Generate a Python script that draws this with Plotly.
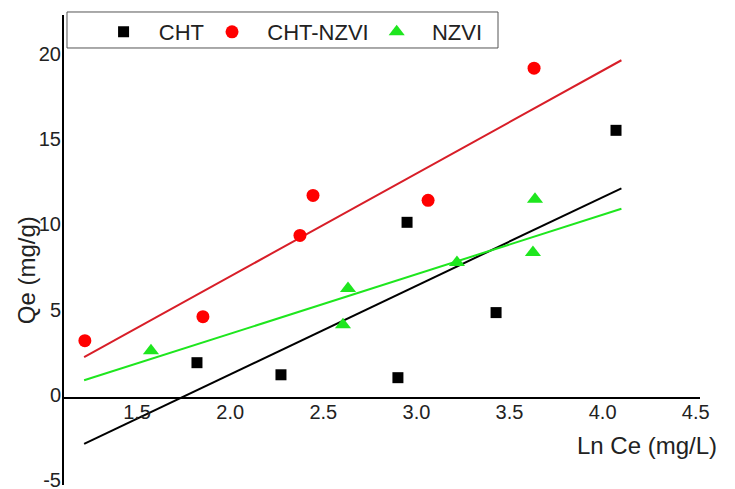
import numpy as np
import plotly.graph_objects as go

# Adsorption data: Qe (mg/g) against Ln Ce (mg/L)
cht_x = [1.811, 2.262, 2.890, 2.939, 3.417, 4.061]
cht_y = [2.06, 1.35, 1.18, 10.3, 5.0, 15.7]

cht_nzvi_x = [1.209, 1.843, 2.364, 2.434, 3.052, 3.621]
cht_nzvi_y = [3.35, 4.76, 9.53, 11.88, 11.59, 19.35]

nzvi_x = [1.564, 2.595, 2.622, 3.207, 3.615, 3.626]
nzvi_y = [2.76, 4.29, 6.41, 7.94, 8.53, 11.65]

# Linear fit parameters (slope, intercept) and the span the fits are drawn over
cht_fit = [5.20, -8.97]
cht_nzvi_fit = [6.04, -4.89]
nzvi_fit = [3.49, -3.18]
fit_x_span = [1.205, 4.09]

x_ticks = [1.5, 2.0, 2.5, 3.0, 3.5, 4.0, 4.5]
y_ticks = [-5, 0, 5, 10, 15, 20]

FONT = "Liberation Sans, Arial, sans-serif"
BLACK = "#000000"
TEXT = "#222222"
RED = "#FF0000"
RED_LINE = "#D81E28"
GREEN = "#1EE61E"

x_range = [1.097, 4.512]
y_range = [-5.12, 22.47]

fig = go.Figure()

series = [
    ("CHT", cht_x, cht_y, cht_fit, BLACK, BLACK, "square", 11),
    ("CHT-NZVI", cht_nzvi_x, cht_nzvi_y, cht_nzvi_fit, RED, RED_LINE, "circle", 13),
    ("NZVI", nzvi_x, nzvi_y, nzvi_fit, GREEN, GREEN, "triangle-up", 14),
]

# fitted lines first so the markers sit on top
for name, xs, ys, (m, b), mcol, lcol, sym, size in series:
    fx = np.array(fit_x_span)
    fig.add_trace(go.Scatter(
        x=fx, y=m * fx + b, mode="lines",
        line=dict(color=lcol, width=2), showlegend=False, hoverinfo="skip",
    ))

PAD = "\u00a0\u00a0"  # small gap between legend symbol and its label
for name, xs, ys, (m, b), mcol, lcol, sym, size in series:
    fig.add_trace(go.Scatter(
        x=xs, y=ys, mode="markers", name=PAD + name,
        marker=dict(symbol=sym, size=size, color=mcol, line=dict(width=0)),
    ))

# y position of the x axis line (at Qe = 0) in paper coordinates
x_axis_pos = (0 - y_range[0]) / (y_range[1] - y_range[0])

fig.update_layout(
    width=735, height=489,
    margin=dict(l=64, r=35, t=15, b=4),
    paper_bgcolor="white", plot_bgcolor="white",
    font=dict(family=FONT, color=BLACK),
    xaxis=dict(
        range=x_range, tickvals=x_ticks, ticktext=[f"{v:.1f}" for v in x_ticks],
        anchor="free", position=x_axis_pos, automargin=False,
        showline=True, linecolor=BLACK, linewidth=1.5,
        ticks="", showgrid=False, zeroline=False,
        ticklabelstandoff=-4, ticklabelshift=-2,
        tickfont=dict(family=FONT, size=20, color=TEXT),
    ),
    yaxis=dict(
        range=y_range, tickvals=y_ticks, ticktext=[str(v) for v in y_ticks],
        automargin=False,
        showline=True, linecolor=BLACK, linewidth=2,
        ticks="", showgrid=False, zeroline=False,
        ticklabeloverflow="allow", ticklabelstandoff=-3, ticklabelshift=-3,
        tickfont=dict(family=FONT, size=20, color=TEXT),
    ),
    legend=dict(
        orientation="h", x=0.0575, y=1.0085, xanchor="left", yanchor="top",
        borderwidth=0, bgcolor="rgba(0,0,0,0)",
        font=dict(family=FONT, size=22, color=TEXT),
        itemwidth=36,
    ),
    shapes=[
        # legend frame
        dict(type="rect", xref="paper", yref="paper",
             x0=0.0047, x1=0.6824, y0=0.9298, y1=1.0064,
             line=dict(color="#555555", width=1), fillcolor="rgba(0,0,0,0)",
             layer="below"),
    ],
    annotations=[
        dict(text="Ln Ce (mg/L)", xref="paper", yref="paper", x=0.9167, y=0.0851,
             xanchor="center", yanchor="middle", showarrow=False,
             font=dict(family=FONT, size=24, color=TEXT)),
        dict(text="Qe (mg/g)", xref="paper", yref="paper", x=-0.0597, y=0.457,
             xanchor="center", yanchor="middle", textangle=-90, showarrow=False,
             font=dict(family=FONT, size=24, color=TEXT)),
    ],
)

fig.write_html("out.html")
